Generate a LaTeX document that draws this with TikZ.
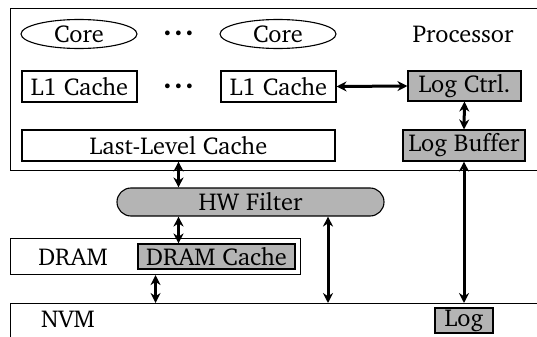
\documentclass[tikz,border=0pt]{standalone}
\usepackage[T1]{fontenc}
\usepackage{charter}
\usetikzlibrary{shapes.geometric,arrows.meta,calc}
\definecolor{unitgray}{RGB}{180,180,180}
\tikzset{
  txt/.style={font=\fontsize{12.2}{14}\selectfont},
  box/.style={draw, line width=0.55pt, inner sep=0pt, txt},
  unit/.style={box, fill=unitgray},
  corebox/.style={box, ellipse, minimum width=58pt, minimum height=14.5pt},
  label/.style={inner sep=0pt, txt},
  ellipsis/.style={inner sep=0pt, font=\fontsize{15}{15}\selectfont\bfseries},
  link/.style={line width=1.5pt, {Stealth[length=5pt,width=5pt]}-{Stealth[length=5pt,width=5pt]}},
}
\newcommand{\bolddots}{.\kern1.2pt.\kern1.2pt.}
\begin{document}
\begin{tikzpicture}[x=0.5pt,y=-0.5pt]
\useasboundingbox (0,0) rectangle (537,337);
\clip (0,0) rectangle (537,337);

% processor and memory regions
\node[box, anchor=north west, minimum width=275pt, minimum height=81pt] (proc) at (10,8) {};
\node[box, anchor=north west, minimum width=145pt, minimum height=18pt] (dram) at (10,238) {};
\node[box, anchor=north west, minimum width=275pt, minimum height=30pt] (nvm) at (10,303) {};

% cores
\node[corebox] (core1) at (79,34) {Core};
\node[corebox] (core2) at (278,34) {Core};
\node[ellipsis] (dots1) at (178.5,34) {\bolddots};
\node[label] (proctext) at (463,34) {Processor};

% private caches
\node[box, minimum width=57.5pt, minimum height=15.5pt] (l1a) at (79.5,86.5) {L1 Cache};
\node[box, minimum width=57.5pt, minimum height=15.5pt] (l1b) at (278.5,86.5) {L1 Cache};
\node[ellipsis] (dots2) at (178.5,87) {\bolddots};

% shared cache and logging hardware
\node[box, minimum width=156.5pt, minimum height=15.5pt] (llc) at (178.5,145.5) {Last-Level Cache};
\node[unit, minimum width=56.5pt, minimum height=15pt] (logctrl) at (464.5,86) {Log Ctrl.};
\node[unit, minimum width=61pt, minimum height=15.5pt] (logbuf) at (464,145.5) {Log Buffer};

% filter, DRAM and NVM contents
\node[unit, rounded corners=7pt, minimum width=133.5pt, minimum height=14pt] (hwf) at (250.5,202) {HW Filter};
\node[unit, minimum width=78.5pt, minimum height=12.5pt] (dcache) at (216.5,256.5) {DRAM Cache};
\node[label] (dramtext) at (73,257) {DRAM};
\node[label] (nvmtext) at (68,319) {NVM};
\node[unit, minimum width=29pt, minimum height=12.5pt] (log) at (464,320.5) {Log};

% connections
\draw[link] (l1b.east) -- (logctrl.west);
\draw[link] (logctrl.south) -- (logbuf.north);
\draw[link] (llc.south) -- (llc.south |- hwf.north);
\draw[link] (hwf.south -| llc.south) -- (dcache.north -| llc.south);
\draw[link] (dram.south) -- (dram.south |- nvm.north);
\draw[link] ([xshift=38.75pt]hwf.south) -- ([xshift=38.75pt]hwf.south |- nvm.north);
\draw[link] (logbuf.south) -- (logbuf.south |- nvm.north);
\end{tikzpicture}
\end{document}
